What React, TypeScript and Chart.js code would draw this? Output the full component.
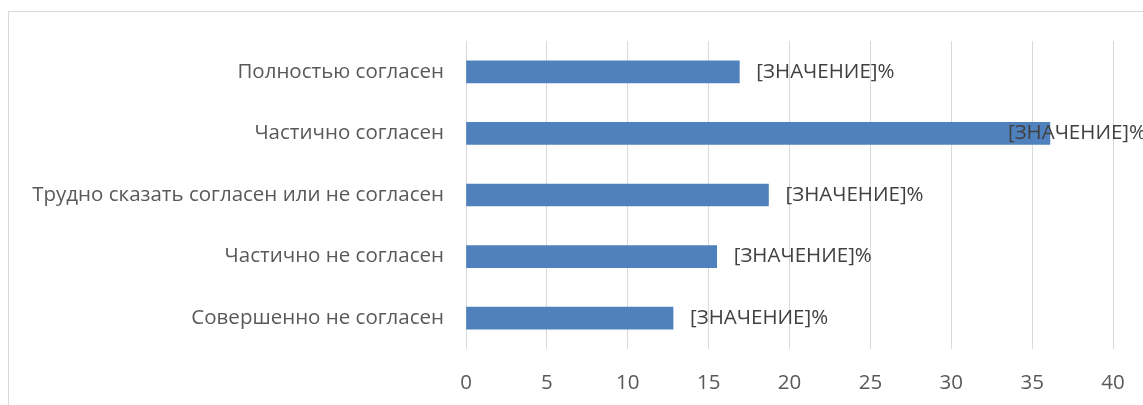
import React, { useEffect, useRef } from "react";
import { Chart, registerables } from "chart.js";

Chart.register(...registerables);

const categories = [
  "Полностью согласен",
  "Частично согласен",
  "Трудно сказать согласен или не согласен",
  "Частично не согласен",
  "Совершенно не согласен",
];
const values = [16.9, 36.1, 18.7, 15.5, 12.8];
const dataLabelText = "[ЗНАЧЕНИЕ]%";
const xTicks = [0, 5, 10, 15, 20, 25, 30, 35, 40];

const FONT = "'Open Sans', Lato, sans-serif";
const FONT_SIZE = 20.5;

const labelPlugin = {
  id: "valueLabels",
  afterDatasetsDraw(chart: any) {
    const ctx = chart.ctx;
    const meta = chart.getDatasetMeta(0);
    ctx.save();
    ctx.font = `${FONT_SIZE}px ${FONT}`;
    ctx.fillStyle = "#404040";
    ctx.textBaseline = "middle";
    ctx.textAlign = "left";
    meta.data.forEach((bar: any) => {
      const w = ctx.measureText(dataLabelText).width;
      let x = bar.x + 17;
      if (x + w > chart.width - 4) x = chart.width - 4 - w;
      ctx.fillText(dataLabelText, x, bar.y);
    });
    ctx.restore();
  },
};

export default function App() {
  const ref = useRef<HTMLCanvasElement | null>(null);
  useEffect(() => {
    if (!ref.current) return;
    const chart = new Chart(ref.current, {
      type: "bar",
      data: {
        labels: categories,
        datasets: [
          {
            data: values,
            backgroundColor: "#4F81BD",
            borderWidth: 0,
            barThickness: 22,
          },
        ],
      },
      options: {
        indexAxis: "y",
        animation: false,
        responsive: false,
        maintainAspectRatio: false,
        layout: { padding: { left: 0, right: 37, top: 29, bottom: 0 } },
        plugins: { legend: { display: false }, tooltip: { enabled: false } },
        scales: {
          x: {
            min: 0,
            max: 40,
            afterBuildTicks: (scale: any) => {
              scale.ticks = xTicks.map((v) => ({ value: v }));
            },
            afterFit: (scale: any) => {
              scale.height = 57;
              scale.paddingLeft = 0;
              scale.paddingRight = 0;
            },
            grid: { color: "#d9d9d9", lineWidth: 1, drawTicks: false },
            border: { display: false },
            ticks: {
              color: "#595959",
              font: { family: FONT, size: FONT_SIZE },
              padding: 22,
            },
          },
          y: {
            afterFit: (scale: any) => {
              scale.width = 457;
              scale.paddingTop = 0;
              scale.paddingBottom = 0;
            },
            grid: { display: false, drawTicks: false },
            border: { display: false },
            ticks: {
              color: "#595959",
              font: { family: FONT, size: FONT_SIZE },
              padding: 22,
            },
          },
        },
      },
      plugins: [labelPlugin],
    });
    return () => chart.destroy();
  }, []);
  return (
    <div
      style={{
        position: "fixed",
        left: 0,
        top: 0,
        width: 1143,
        height: 405,
        overflow: "hidden",
        background: "#fff",
      }}
    >
      <div
        style={{
          position: "absolute",
          left: 8,
          top: 11,
          width: 1141,
          height: 420,
          border: "1px solid #d9d9d9",
        }}
      >
        <canvas ref={ref} width={1141} height={394} style={{ display: "block" }} />
      </div>
    </div>
  );
}
